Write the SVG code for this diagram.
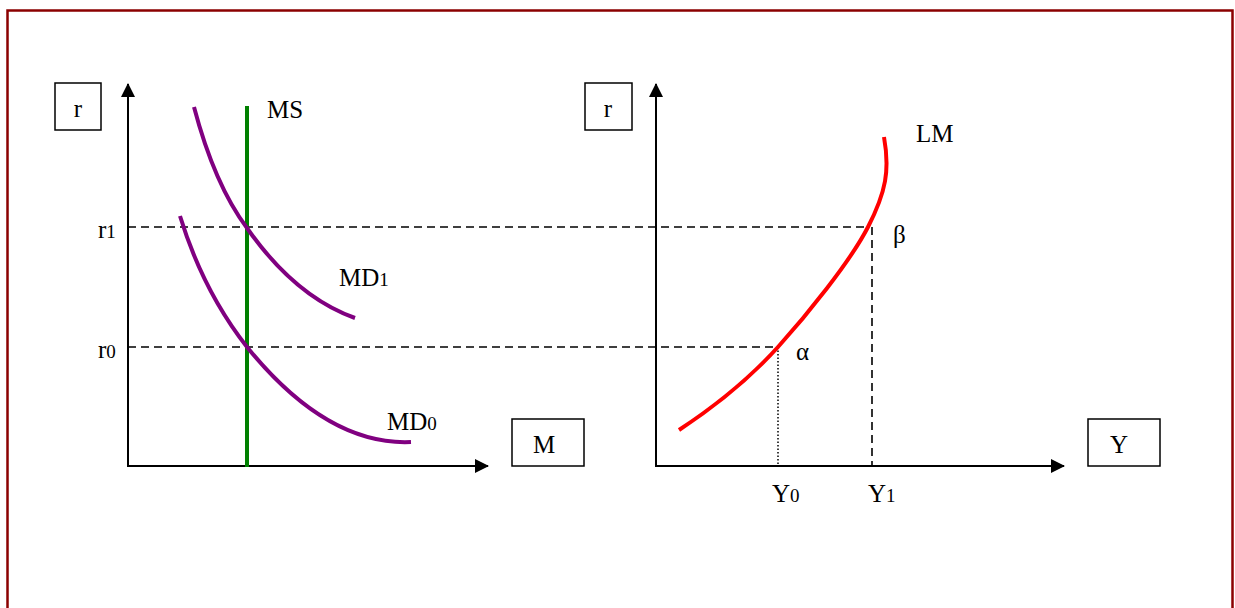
<svg xmlns="http://www.w3.org/2000/svg" width="1235" height="608" viewBox="0 0 1235 608">
<defs>
<marker id="arr" viewBox="0 0 14 14" refX="13" refY="7" markerWidth="14" markerHeight="14" markerUnits="userSpaceOnUse" orient="auto">
<path d="M0,0 L14,7 L0,14 Z" fill="#000"/>
</marker>
<style>
text{font-family:"Liberation Serif","Times New Roman",serif;font-size:25px;fill:#000}
.sub{font-size:19px}
.axis{stroke:#000;stroke-width:2;fill:none}
.box{stroke:#000;stroke-width:1.5;fill:#fff}
.dash{stroke:#000;stroke-width:1.6;stroke-dasharray:8,5;fill:none}
.dot{stroke:#000;stroke-width:1.5;stroke-dasharray:1.5,2;fill:none}
.md{stroke:#800080;stroke-width:4;fill:none}
</style>
</defs>
<rect x="7.5" y="10.5" width="1225" height="610" fill="none" stroke="#8B0000" stroke-width="2.5"/>
<g id="connectors">
<line class="dash" x1="128" y1="227" x2="868" y2="227"/>
<line class="dash" x1="128" y1="347" x2="778" y2="347"/>
<line class="dash" x1="872" y1="227" x2="872" y2="466"/>
<line class="dot" x1="778" y1="347" x2="778" y2="466"/>
<line class="axis" x1="128" y1="467" x2="128" y2="84" marker-end="url(#arr)"/>
<line class="axis" x1="127" y1="466" x2="488" y2="466" marker-end="url(#arr)"/>
<line class="axis" x1="656" y1="467" x2="656" y2="84" marker-end="url(#arr)"/>
<line class="axis" x1="655" y1="466" x2="1064" y2="466" marker-end="url(#arr)"/>
</g>
<g id="ms"><line x1="247" y1="106" x2="247" y2="467" stroke="#008000" stroke-width="4"/><text x="267" y="118">MS</text></g>
<g id="md1"><path class="md" d="M194,107 C208,160 226,200 247,228 C275,268 310,302 355,318"/><text x="339" y="286">MD<tspan class="sub">1</tspan></text></g>
<g id="md0"><path class="md" d="M180,216 C195,265 218,310 247,347 C290,400 345,445 411,442"/><text x="387" y="430">MD<tspan class="sub">0</tspan></text></g>
<g id="lm"><path d="M679,430 C720,403 750,378 778,347 S850,262 868,227 S890,170 884,137" stroke="#ff0000" stroke-width="4" fill="none"/><text x="916" y="142">LM</text></g>
<g id="box-r-left"><rect class="box" x="55" y="83" width="46" height="47"/><text x="78" y="117" text-anchor="middle">r</text></g>
<g id="box-r-right"><rect class="box" x="585" y="83" width="47" height="47"/><text x="608" y="117" text-anchor="middle">r</text></g>
<g id="box-m"><rect class="box" x="512" y="419" width="72" height="47"/><text x="544" y="453" text-anchor="middle">M</text></g>
<g id="box-y"><rect class="box" x="1088" y="419" width="72" height="47"/><text x="1119" y="453" text-anchor="middle">Y</text></g>
<g id="labels">
<text x="98" y="238">r<tspan class="sub">1</tspan></text>
<text x="98" y="358">r<tspan class="sub">0</tspan></text>
<text x="796" y="360">α</text>
<text x="893" y="243">β</text>
<text x="772" y="502">Y<tspan class="sub">0</tspan></text>
<text x="868" y="502">Y<tspan class="sub">1</tspan></text>
</g>
</svg>
